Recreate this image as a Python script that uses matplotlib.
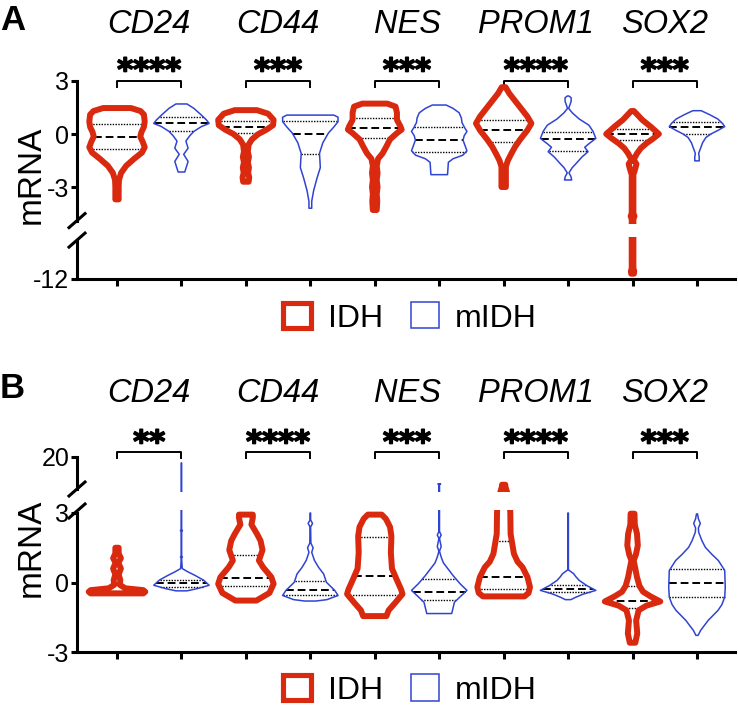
import numpy as np
import matplotlib
matplotlib.use('Agg')
import matplotlib.pyplot as plt
import matplotlib.patheffects as pe
from matplotlib.patches import Polygon, Rectangle
from matplotlib.lines import Line2D
from matplotlib.transforms import blended_transform_factory

plt.rcParams['font.family'] = ['Liberation Sans', 'DejaVu Sans']
plt.rcParams['axes.unicode_minus'] = False

# ---------------- data ----------------
genes = ['CD24', 'CD44', 'NES', 'PROM1', 'SOX2']
groups = ['IDH', 'mIDH']
stars_A = ['****', '***', '***', '****', '***']
stars_B = ['**', '****', '***', '****', '***']

# violin profiles: (mRNA value, relative half-width), top to bottom
A_IDH_CD24 = [(1.47, 0.5), (1.3, 0.85), (1.1, 0.97), (0.7, 1.0), (0.4, 0.97), (0.1, 0.88), (-0.15, 0.84),
              (-0.45, 0.93), (-0.75, 1.0), (-1.05, 0.9), (-1.4, 0.62), (-1.8, 0.33), (-2.2, 0.15),
              (-2.6, 0.07), (-3.0, 0.06), (-3.7, 0.06)]
A_MIDH_CD24 = [(1.7, 0.2), (1.45, 0.45), (1.1, 0.7), (0.8, 0.9), (0.6, 1.0), (0.42, 0.72), (0.15, 0.45),
               (-0.1, 0.3), (-0.4, 0.16), (-0.8, 0.24), (-1.15, 0.08), (-1.55, 0.24), (-1.9, 0.17), (-2.15, 0.12)]
A_IDH_CD44 = [(1.35, 0.4), (1.15, 0.8), (0.8, 1.0), (0.5, 0.98), (0.25, 0.75), (0.0, 0.45), (-0.3, 0.22),
              (-0.6, 0.1), (-1.0, 0.07), (-1.3, 0.11), (-1.6, 0.07), (-1.9, 0.11), (-2.2, 0.08), (-2.45, 0.12), (-2.7, 0.1)]
A_MIDH_CD44 = [(1.07, 0.85), (0.95, 1.0), (0.7, 1.0), (0.4, 0.85), (0.05, 0.65), (-0.5, 0.45), (-1.1, 0.33),
               (-1.6, 0.35), (-1.9, 0.36), (-2.5, 0.24), (-3.2, 0.12), (-3.8, 0.05), (-4.2, 0.05)]
A_IDH_NES = [(1.72, 0.45), (1.55, 0.75), (1.2, 0.8), (0.8, 0.8), (0.45, 0.92), (0.25, 0.97), (0.05, 0.8),
             (-0.3, 0.55), (-0.7, 0.42), (-1.1, 0.28), (-1.4, 0.12), (-1.8, 0.07), (-2.2, 0.1), (-2.6, 0.07),
             (-3.0, 0.1), (-3.4, 0.07), (-3.8, 0.09), (-4.3, 0.07)]
A_MIDH_NES = [(1.64, 0.25), (1.45, 0.5), (1.2, 0.72), (0.9, 0.8), (0.65, 0.82), (0.35, 0.92), (0.15, 1.0),
              (-0.1, 0.9), (-0.35, 0.86), (-0.65, 0.93), (-0.95, 1.0), (-1.2, 0.85), (-1.4, 0.5), (-1.6, 0.33), (-2.3, 0.3)]
A_IDH_PROM1 = [(2.65, 0.07), (2.3, 0.2), (1.9, 0.4), (1.4, 0.65), (1.0, 0.85), (0.6, 1.0), (0.2, 0.85),
               (-0.3, 0.6), (-0.7, 0.42), (-1.1, 0.28), (-1.5, 0.15), (-1.85, 0.08), (-2.4, 0.08), (-3.0, 0.08)]
A_MIDH_PROM1 = [(2.15, 0.03), (2.05, 0.11), (1.85, 0.11), (1.45, 0.02), (1.2, 0.15), (0.85, 0.4), (0.5, 0.75),
                (0.15, 0.9), (-0.25, 1.0), (-0.55, 0.75), (-0.75, 0.6), (-1.0, 0.72), (-1.3, 0.5), (-1.65, 0.3),
                (-1.9, 0.15), (-2.2, 0.03), (-2.4, 0.1), (-2.6, 0.13)]
A_IDH_SOX2 = [(1.3, 0.05), (1.05, 0.2), (0.8, 0.35), (0.42, 0.65), (0.0, 0.95), (-0.25, 0.75), (-0.53, 0.5),
              (-0.8, 0.3), (-1.1, 0.16), (-1.45, 0.04), (-1.7, 0.14), (-1.95, 0.1), (-2.3, 0.03), (-4.5, 0.03),
              (-4.65, 0.07), (-4.8, 0.03), (-11.4, 0.03), (-11.55, 0.06), (-11.7, 0.05)]
A_MIDH_SOX2 = [(1.32, 0.15), (1.1, 0.45), (0.85, 0.75), (0.6, 0.92), (0.42, 1.0), (0.2, 0.75), (0.0, 0.5),
               (-0.2, 0.32), (-0.5, 0.2), (-0.8, 0.13), (-1.1, 0.06), (-1.3, 0.08), (-1.52, 0.08)]

B_IDH_CD24 = [(1.5, 0.06), (1.25, 0.06), (1.05, 0.14), (0.85, 0.05), (0.6, 0.14), (0.35, 0.06), (0.1, 0.12),
              (-0.1, 0.1), (-0.25, 0.3), (-0.33, 0.95), (-0.4, 1.02), (-0.47, 0.95)]
B_MIDH_CD24 = [(17.8, 0.005), (2.3, 0.005), (2.24, 0.035), (2.18, 0.005), (1.15, 0.005), (1.1, 0.035),
               (1.05, 0.005), (0.6, 0.03), (0.45, 0.25), (0.3, 0.5), (0.1, 0.8), (-0.12, 1.0), (-0.27, 0.55), (-0.36, 0.2)]
B_IDH_CD44 = [(2.93, 0.25), (2.8, 0.25), (2.5, 0.2), (2.1, 0.4), (1.8, 0.53), (1.4, 0.6), (0.95, 0.47),
              (0.66, 0.62), (0.23, 0.92), (-0.06, 1.0), (-0.45, 0.85), (-0.78, 0.38)]
B_MIDH_CD44 = [(3.0, 0.01), (2.7, 0.01), (2.55, 0.08), (2.4, 0.01), (1.7, 0.02), (1.5, 0.1), (1.3, 0.05),
               (0.95, 0.15), (0.65, 0.3), (0.37, 0.48), (0.01, 0.58), (-0.34, 0.88), (-0.56, 1.0), (-0.74, 0.6), (-0.8, 0.2)]
B_IDH_NES = [(2.93, 0.25), (2.75, 0.4), (2.4, 0.55), (2.0, 0.6), (1.3, 0.58), (0.6, 0.62), (0.1, 0.8),
             (-0.3, 0.95), (-0.5, 1.0), (-0.9, 0.72), (-1.2, 0.5), (-1.45, 0.42)]
B_MIDH_NES = [(9.9, 0.05), (9.7, 0.01), (3.0, 0.01), (2.2, 0.01), (2.05, 0.07), (1.9, 0.01), (1.55, 0.07),
              (1.35, 0.01), (1.1, 0.07), (0.85, 0.15), (0.66, 0.27), (0.3, 0.5), (-0.05, 0.75), (-0.34, 1.0),
              (-0.85, 0.55), (-1.34, 0.45)]
B_IDH_PROM1 = [(9.6, 0.06), (9.0, 0.06), (4.0, 0.2), (3.0, 0.24), (2.1, 0.25), (1.24, 0.37), (0.9, 0.5),
               (0.66, 0.68), (0.23, 0.86), (-0.2, 0.95), (-0.45, 0.9), (-0.6, 0.75)]
B_MIDH_PROM1 = [(3.0, 0.01), (0.55, 0.01), (0.45, 0.12), (0.38, 0.2), (0.25, 0.28), (0.09, 0.4), (-0.13, 0.67),
                (-0.34, 1.0), (-0.5, 0.55), (-0.65, 0.25), (-0.74, 0.1)]
B_IDH_SOX2 = [(2.97, 0.07), (2.5, 0.08), (2.1, 0.16), (1.6, 0.19), (1.2, 0.12), (0.95, 0.04), (0.6, 0.1),
              (0.23, 0.16), (-0.15, 0.25), (-0.4, 0.38), (-0.6, 0.65), (-0.82, 1.0), (-1.0, 0.5), (-1.2, 0.22),
              (-1.64, 0.13), (-2.2, 0.17), (-2.6, 0.1)]
B_MIDH_SOX2 = [(2.96, 0.02), (2.75, 0.05), (2.55, 0.12), (2.35, 0.05), (2.17, 0.06), (1.8, 0.18), (1.52, 0.3),
               (1.2, 0.55), (0.95, 0.77), (0.52, 1.0), (-0.2, 1.02), (-0.63, 1.0), (-0.95, 0.9), (-1.2, 0.76),
               (-1.64, 0.4), (-2.07, 0.13), (-2.28, 0.04)]

# quartiles per gene: (Q3, median, Q1)
A_IDH_Q = [(0.57, -0.15, -0.87), (0.74, 0.37, 0.04), (0.9, 0.32, -0.25), (0.82, 0.25, -0.45), (0.26, 0.0, -0.34)]
A_MIDH_Q = [(0.97, 0.6, 0.15), (0.74, 0.0, -1.15), (0.42, -0.34, -1.0), (0.13, -0.28, -0.94), (0.7, 0.42, 0.0)]
B_IDH_Q = [(-0.35, -0.4, -0.45), (1.2, 0.2, -0.13), (1.95, 0.26, -0.52), (1.8, 0.22, -0.3), (-0.17, -0.82, -1.12)]
B_MIDH_Q = [(0.12, -0.03, -0.2), (0.06, -0.32, -0.56), (0.13, -0.39, -0.74), (-0.1, -0.27, -0.42), (0.6, 0.0, -0.64)]

A_IDH = [A_IDH_CD24, A_IDH_CD44, A_IDH_NES, A_IDH_PROM1, A_IDH_SOX2]
A_MIDH = [A_MIDH_CD24, A_MIDH_CD44, A_MIDH_NES, A_MIDH_PROM1, A_MIDH_SOX2]
B_IDH = [B_IDH_CD24, B_IDH_CD44, B_IDH_NES, B_IDH_PROM1, B_IDH_SOX2]
B_MIDH = [B_MIDH_CD24, B_MIDH_CD44, B_MIDH_NES, B_MIDH_PROM1, B_MIDH_SOX2]

# ---------------- style ----------------
RED = '#d92a10'
BLUE = '#3044d2'
LW_RED = 4.3
LW_BLUE = 1.1
HALF_W = 0.43
SPINE_LW = 2.2

FW, FH = 738, 705
fig = plt.figure(figsize=(FW / 100, FH / 100), dpi=100)

def fy(py):
    return 1 - py / FH

def fx(px):
    return px / FW

AX_L, AX_R = 77, 735
XLIM = (-(117 - AX_L) / 64.44, 9 + (AX_R - 697) / 64.44)

def add_ax(ytop, ybot, ylim, yticks, bottom):
    ax = fig.add_axes([fx(AX_L), fy(ybot), fx(AX_R - AX_L), (ybot - ytop) / FH])
    ax.set_xlim(*XLIM)
    ax.set_ylim(*ylim)
    ax.set_facecolor('none')
    for s in ['top', 'right']:
        ax.spines[s].set_visible(False)
    ax.spines['left'].set_linewidth(SPINE_LW)
    ax.spines['bottom'].set_linewidth(SPINE_LW)
    ax.spines['bottom'].set_visible(bottom)
    ax.set_yticks(yticks)
    ax.set_yticklabels([str(t) for t in yticks], fontsize=18)
    ax.tick_params(axis='y', direction='out', length=4, width=SPINE_LW, pad=1.5)
    if bottom:
        ax.set_xticks(range(10))
        ax.set_xticklabels([])
        ax.tick_params(axis='x', direction='out', length=5, width=SPINE_LW)
    else:
        ax.set_xticks([])
    ax._pxh = ybot - ytop
    return ax

def break_mark(py):
    fig.add_artist(Line2D([fx(AX_L - 8), fx(AX_L + 8)], [fy(py + 7), fy(py - 7)],
                          transform=fig.transFigure, color='black', lw=SPINE_LW))

def draw_violin(axes, c, prof, quart, color, lw):
    ys = np.array([p[0] for p in prof])
    ws = np.array([p[1] for p in prof]) * HALF_W
    xs = np.concatenate([c + ws, (c - ws)[::-1]])
    yy = np.concatenate([ys, ys[::-1]])
    pts = np.column_stack([xs, yy])
    for ax in axes:
        dx = 3 / (AX_R - AX_L)
        dy = 3 / ax._pxh
        clip = Rectangle((-dx, -dy), 1 + 2 * dx, 1 + 2 * dy, transform=ax.transAxes)
        f = Polygon(pts, closed=True, facecolor='white', edgecolor='none', zorder=2)
        ax.add_patch(f)
        f.set_clip_path(clip)
        for q, ls, qlw in zip(quart, [(0, (1, 1)), (0, (4, 2)), (0, (1, 1))], [1.0, 1.4, 1.0]):
            wq = np.interp(q, ys[::-1], ws[::-1])
            ln, = ax.plot([c - wq, c + wq], [q, q], color='black', lw=qlw, ls=ls, zorder=3,
                          solid_capstyle='butt', dash_capstyle='butt')
            ln.set_clip_path(clip)
        e = Polygon(pts, closed=True, fill=False, edgecolor=color, lw=lw, joinstyle='round', zorder=4)
        ax.add_patch(e)
        e.set_clip_path(clip)

def panel(axes, idh, midh, qi, qm, stars, label, label_base, gene_base, star_base,
          br_top, ylab_y, leg_y):
    for k in range(5):
        draw_violin(axes, 2 * k, idh[k], qi[k], RED, LW_RED)
        draw_violin(axes, 2 * k + 1, midh[k], qm[k], BLUE, LW_BLUE)
    top = axes[0]
    tr = blended_transform_factory(top.transData, fig.transFigure)
    for k in range(5):
        xc = 2 * k + 0.5
        top.text(xc, fy(gene_base), genes[k], transform=tr, ha='center', va='baseline',
                 fontsize=23.5, style='italic')
        top.text(xc, fy(star_base), stars[k], transform=tr, ha='center', va='baseline',
                 fontsize=22, fontweight='bold', family='DejaVu Sans',
                 path_effects=[pe.withStroke(linewidth=1.2, foreground='black')])
        top.add_line(Line2D([2 * k, 2 * k, 2 * k + 1, 2 * k + 1],
                            [fy(br_top + 6), fy(br_top), fy(br_top), fy(br_top + 6)],
                            transform=tr, color='black', lw=1.4, clip_on=False))
    fig.text(fx(0), fy(label_base), label, fontsize=25, fontweight='bold', va='baseline', ha='left')
    fig.text(fx(31), fy(ylab_y), 'mRNA', fontsize=24, rotation=90, ha='center', va='center')
    # legend
    fig.add_artist(Rectangle((fx(282.5), fy(leg_y + 12.5)), fx(28), 25 / FH, transform=fig.transFigure,
                             fill=False, edgecolor=RED, lw=3.7))
    fig.text(fx(328), fy(leg_y + 12), groups[0], fontsize=23, va='baseline', ha='left')
    fig.add_artist(Rectangle((fx(410.75), fy(leg_y + 13.5)), fx(28.5), 27 / FH, transform=fig.transFigure,
                             fill=False, edgecolor=BLUE, lw=LW_BLUE))
    fig.text(fx(455), fy(leg_y + 12), groups[1], fontsize=23, va='baseline', ha='left')

# Panel A
aAt = add_ax(81, 220.6, (-4.9, 3), [-3, 0, 3], False)
aAb = add_ax(240.1, 279, (-12, -9.8), [-12], True)
break_mark(220.6)
break_mark(240.1)
panel([aAt, aAb], A_IDH, A_MIDH, A_IDH_Q, A_MIDH_Q, stars_A, 'A', 30, 33, 80, 81, 175, 315)

# Panel B
aBt = add_ax(457, 489, (8, 20), [20], False)
aBb = add_ax(513, 652, (-3, 3), [-3, 0, 3], True)
break_mark(489)
break_mark(511)
panel([aBt, aBb], B_IDH, B_MIDH, B_IDH_Q, B_MIDH_Q, stars_B, 'B', 398, 402, 452, 452, 548, 687)

fig.savefig('out.png', dpi=100)
